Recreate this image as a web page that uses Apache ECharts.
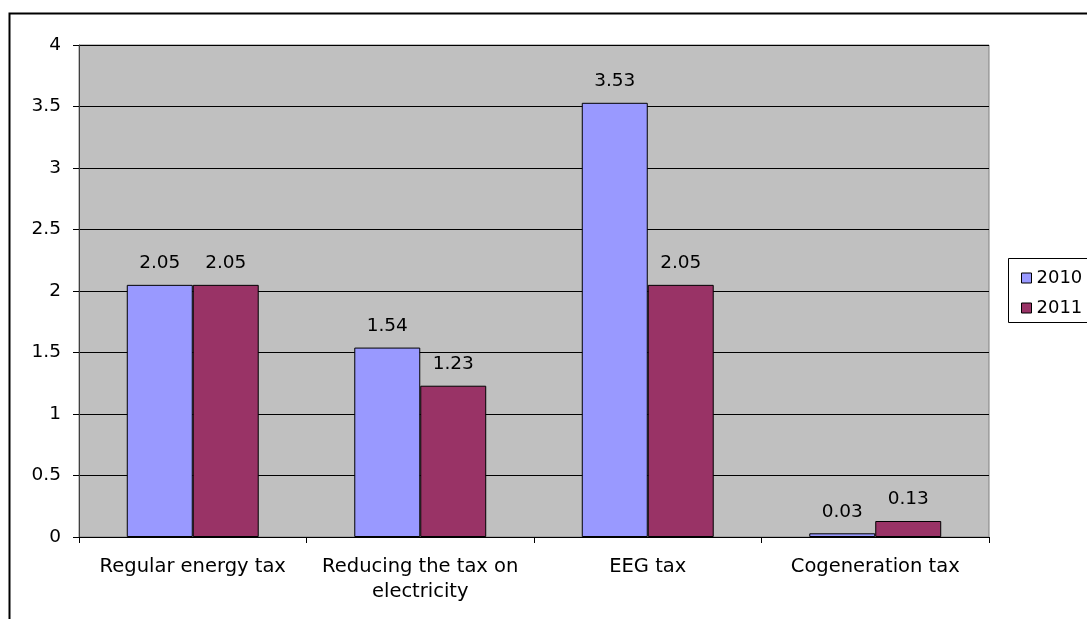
<!DOCTYPE html>
<html>
<head>
<meta charset="utf-8">
<script src="https://cdn.jsdelivr.net/npm/echarts@6/dist/echarts.min.js"></script>
<style>
  html, body { margin: 0; padding: 0; background: #fff; }
  #chart { width: 1087px; height: 619px; }
</style>
</head>
<body>
<div id="chart"></div>
<script>
// Tax components, 2010 vs 2011
const categories = ['Regular energy tax', 'Reducing the tax on\nelectricity', 'EEG tax', 'Cogeneration tax'];
const seriesNames = ['2010', '2011'];
const values2010 = [2.05, 1.54, 3.53, 0.03];
const values2011 = [2.05, 1.23, 2.05, 0.13];
const yTicks = { min: 0, max: 4, interval: 0.5 };

const FONT = '"DejaVu Sans", Verdana, sans-serif';
const chart = echarts.init(document.getElementById('chart'));

function barSeries(name, data, color) {
  return {
    name: name,
    type: 'bar',
    data: data,
    barGap: '0%',
    barCategoryGap: '42%',
    itemStyle: { color: color, borderColor: '#000', borderWidth: 1 },
    label: {
      show: true,
      position: 'top',
      distance: 12,
      color: '#000',
      fontFamily: FONT,
      fontSize: 18.5
    },
    emphasis: { disabled: true },
    animation: false
  };
}

chart.setOption({
  animation: false,
  backgroundColor: '#fff',
  textStyle: { fontFamily: FONT },
  grid: {
    left: 79, top: 45, right: 98, bottom: 82,
    show: true,
    backgroundColor: '#C0C0C0',
    borderColor: '#808080',
    borderWidth: 1
  },
  legend: {
    orient: 'vertical',
    left: 1016,
    top: 264,
    itemWidth: 10,
    itemHeight: 10,
    itemGap: 12,
    icon: 'rect',
    itemStyle: { borderColor: '#000', borderWidth: 1 },
    textStyle: { fontFamily: FONT, fontSize: 18, color: '#000', padding: [0, 0, 0, 0] },
    data: seriesNames
  },
  xAxis: {
    type: 'category',
    data: categories,
    axisLine: { lineStyle: { color: '#000', width: 1 } },
    axisTick: { show: true, length: 6, lineStyle: { color: '#000' } },
    axisLabel: {
      color: '#000', fontFamily: FONT, fontSize: 19.5,
      margin: 17, lineHeight: 25, interval: 0
    },
    splitLine: { show: false }
  },
  yAxis: {
    type: 'value',
    min: yTicks.min, max: yTicks.max, interval: yTicks.interval,
    axisLine: { show: true, lineStyle: { color: '#404040', width: 1 } },
    axisTick: { show: true, length: 6, lineStyle: { color: '#000' } },
    axisLabel: { color: '#000', fontFamily: FONT, fontSize: 18.5, margin: 18 },
    splitLine: { show: true, lineStyle: { color: '#000', width: 1 } }
  },
  series: [
    barSeries(seriesNames[0], values2010, '#9999FF'),
    barSeries(seriesNames[1], values2011, '#993366')
  ],
  graphic: [
    {
      // outer chart frame (left and top edges)
      type: 'polyline',
      shape: { points: [[9.5, 640], [9.5, 13.5], [1100, 13.5]] },
      style: { stroke: '#000', lineWidth: 2, fill: null },
      silent: true
    },
    {
      // legend box
      type: 'rect',
      shape: { x: 1008.5, y: 258.5, width: 120, height: 64 },
      style: { stroke: '#000', lineWidth: 1, fill: null },
      silent: true,
      z: 10
    }
  ]
});
</script>
</body>
</html>
